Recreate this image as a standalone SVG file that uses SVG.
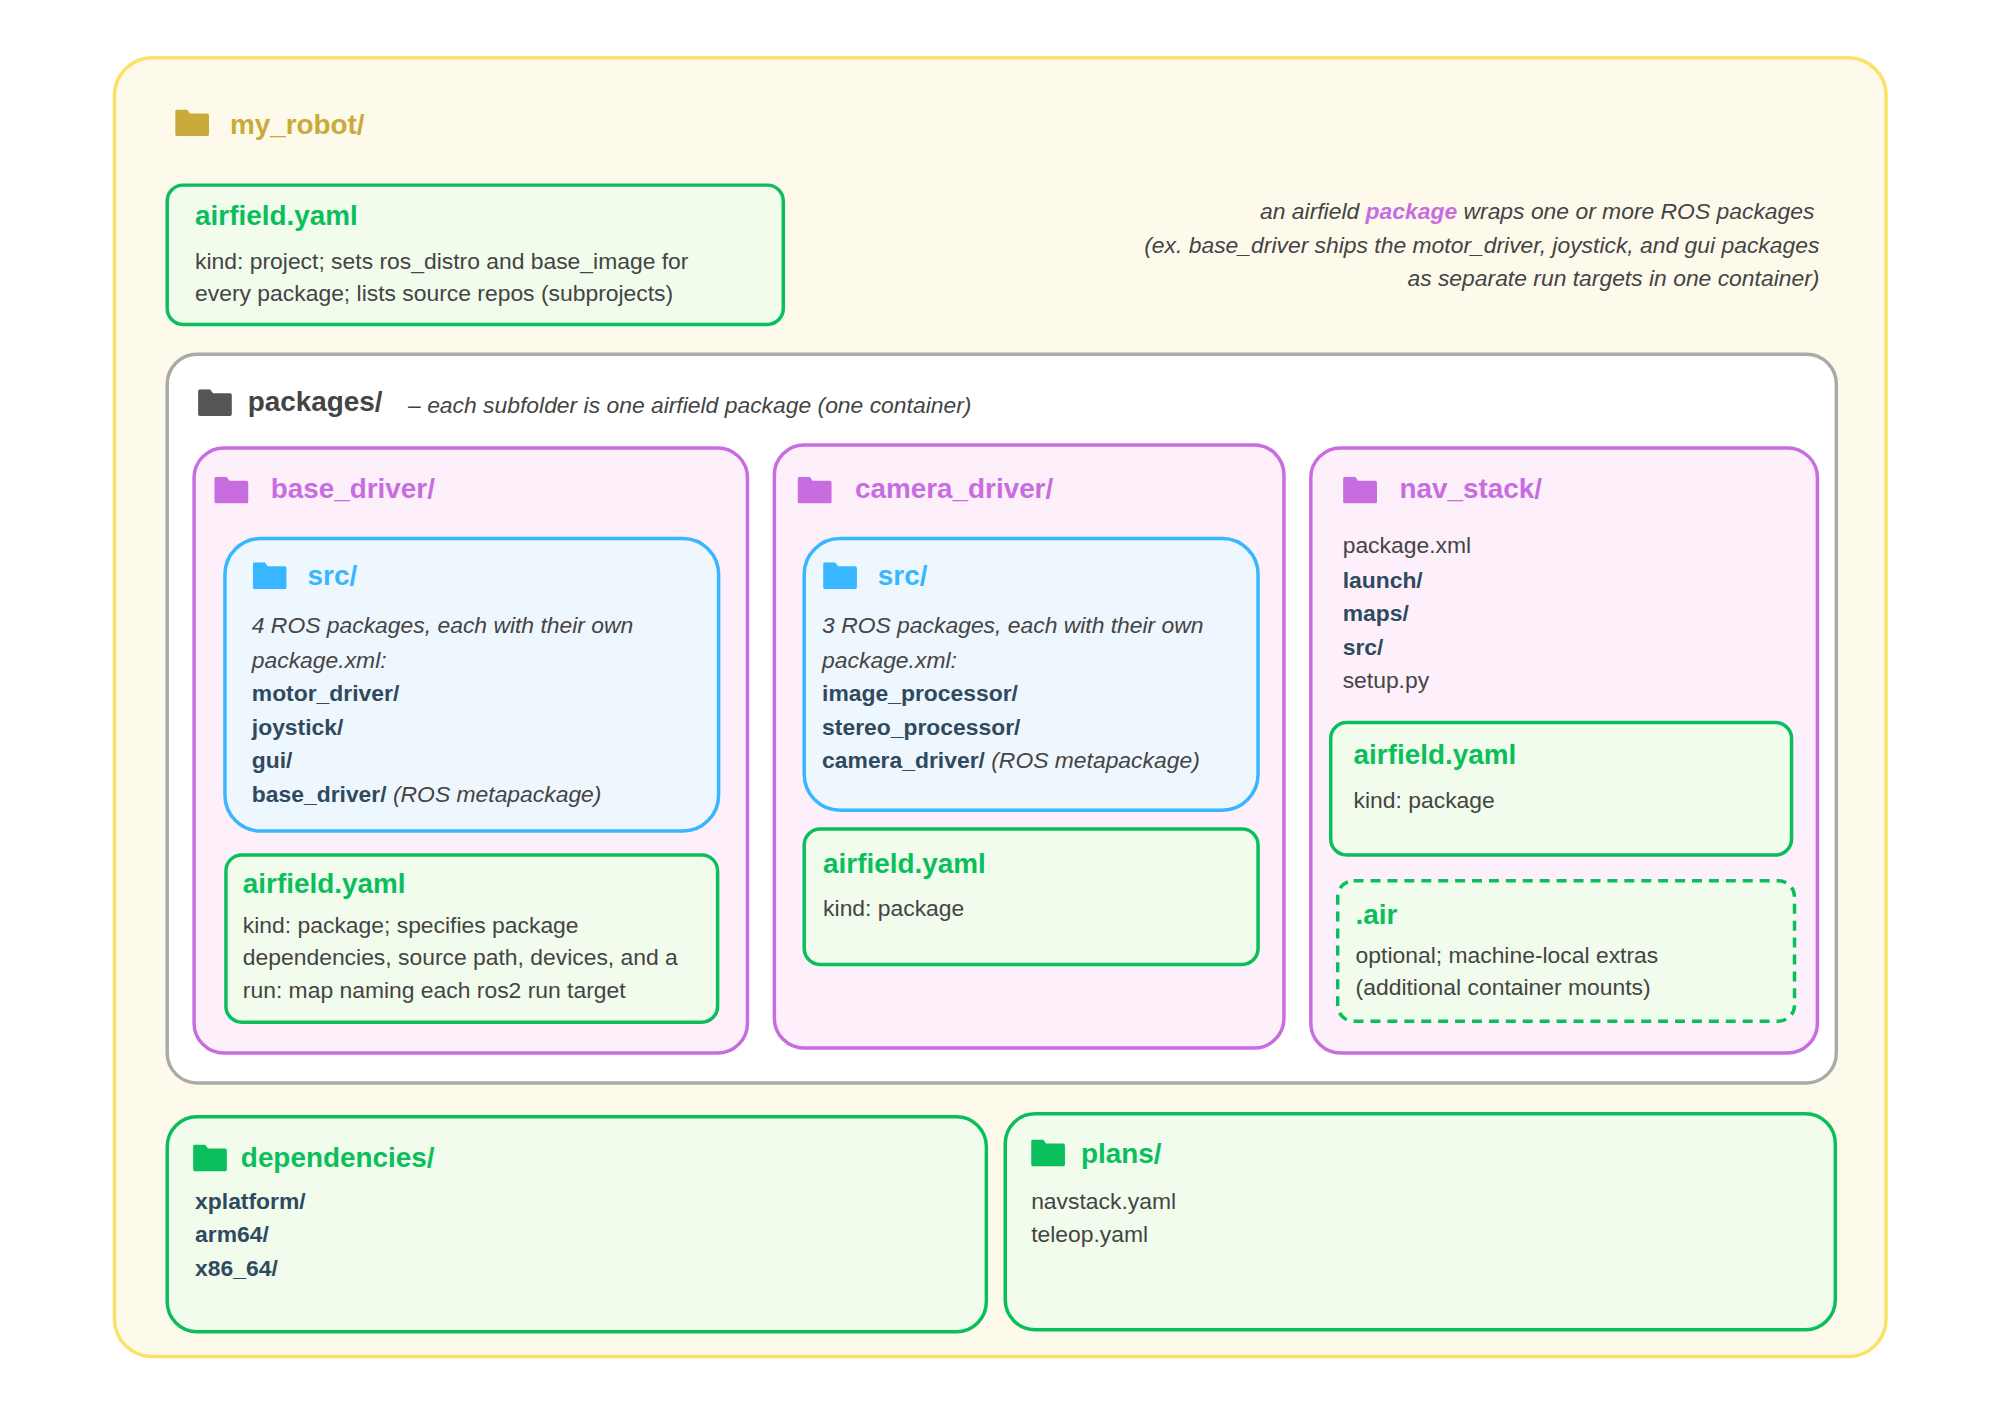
<svg xmlns="http://www.w3.org/2000/svg" width="2000" height="1414" viewBox="0 0 2000 1414">
<defs>
<style>
text{font-family:"Liberation Sans",Arial,sans-serif;}
.t{font-weight:bold;font-size:28px;}
.b{font-size:23px;fill:#444;}
.i{font-size:23px;fill:#444;font-style:italic;}
.k{font-size:23px;fill:#2f4a5e;font-weight:bold;}
.g{fill:#f1fcec;stroke:#0abf5b;stroke-width:3.5;}
.p{fill:#fdf0fb;stroke:#c86de0;stroke-width:3.5;}
.s{fill:#eef6fe;stroke:#38b6ff;stroke-width:3.5;}
</style>
<symbol id="fold" viewBox="0 0 34 27"><path d="M2 0H12L15 4H32Q34 4 34 6V25Q34 27 32 27H2Q0 27 0 25V2Q0 0 2 0Z"/></symbol>
</defs>
<rect width="2000" height="1414" fill="#fff"/>
<g transform="scale(0.9953)">
<g id="my_robot">
<rect x="115" y="58" width="1780" height="1305" rx="38" fill="#fdfaec" stroke="#fde066" stroke-width="3.5"/>
<use href="#fold" x="176" y="110" width="34" height="27" fill="#c9aa3a"/>
<text x="231" y="135" class="t" fill="#c9aa3a" font-size="33">my_robot/</text>
</g>
<g id="root_yaml">
<rect x="168" y="186" width="619" height="140" rx="16" class="g"/>
<text x="196" y="226" class="t" fill="#0abf5b">airfield.yaml</text>
<text x="196" y="270" class="b">kind: project; sets ros_distro and base_image for</text>
<text x="196" y="302" class="b">every package; lists source repos (subprojects)</text>
</g>
<g id="note">
<text x="1823" y="220" class="i" text-anchor="end">an airfield <tspan fill="#c86de0" font-weight="bold">package</tspan> wraps one or more ROS packages</text>
<text x="1828" y="254" class="i" text-anchor="end">(ex. base_driver ships the motor_driver, joystick, and gui packages</text>
<text x="1828" y="287" class="i" text-anchor="end">as separate run targets in one container)</text>
</g>
<g id="packages">
<rect x="168" y="356" width="1677" height="732" rx="30" fill="#fff" stroke="#aaa" stroke-width="3.5"/>
<use href="#fold" x="199" y="391" width="34" height="27" fill="#555"/>
<text x="249" y="413" class="t" fill="#444">packages/</text>
<text x="410" y="415" class="i">– each subfolder is one airfield package (one container)</text>
</g>
<g id="base_driver">
<rect x="195" y="450" width="556" height="608" rx="30" class="p"/>
<use href="#fold" x="215" y="479" width="35" height="27" fill="#c86de0"/>
<text x="272" y="500" class="t" fill="#c86de0">base_driver/</text>
<rect x="226" y="541" width="496" height="294" rx="36" class="s"/>
<use href="#fold" x="254" y="565" width="34" height="27" fill="#38b6ff"/>
<text x="309" y="588" class="t" fill="#38b6ff">src/</text>
<text x="253" y="636" class="i">4 ROS packages, each with their own</text>
<text x="253" y="671" class="i">package.xml:</text>
<text x="253" y="704" class="k">motor_driver/</text>
<text x="253" y="738" class="k">joystick/</text>
<text x="253" y="772" class="k">gui/</text>
<text x="253" y="806" class="k">base_driver/ <tspan class="i" font-weight="normal" fill="#444">(ROS metapackage)</tspan></text>
<rect x="227" y="859" width="494" height="168" rx="16" class="g"/>
<text x="244" y="897" class="t" fill="#0abf5b">airfield.yaml</text>
<text x="244" y="937" class="b">kind: package; specifies package</text>
<text x="244" y="970" class="b">dependencies, source path, devices, and a</text>
<text x="244" y="1003" class="b">run: map naming each ros2 run target</text>
</g>
<g id="camera_driver">
<rect x="778" y="447" width="512" height="606" rx="30" class="p"/>
<use href="#fold" x="801" y="479" width="35" height="27" fill="#c86de0"/>
<text x="859" y="500" class="t" fill="#c86de0">camera_driver/</text>
<rect x="808" y="541" width="456" height="273" rx="36" class="s"/>
<use href="#fold" x="827" y="565" width="34" height="27" fill="#38b6ff"/>
<text x="882" y="588" class="t" fill="#38b6ff">src/</text>
<text x="826" y="636" class="i">3 ROS packages, each with their own</text>
<text x="826" y="671" class="i">package.xml:</text>
<text x="826" y="704" class="k">image_processor/</text>
<text x="826" y="738" class="k">stereo_processor/</text>
<text x="826" y="772" class="k">camera_driver/ <tspan class="i" font-weight="normal" fill="#444">(ROS metapackage)</tspan></text>
<rect x="808" y="833" width="456" height="136" rx="16" class="g"/>
<text x="827" y="877" class="t" fill="#0abf5b">airfield.yaml</text>
<text x="827" y="920" class="b">kind: package</text>
</g>
<g id="nav_stack">
<rect x="1317" y="450" width="509" height="608" rx="30" class="p"/>
<use href="#fold" x="1349" y="479" width="35" height="27" fill="#c86de0"/>
<text x="1406" y="500" class="t" fill="#c86de0">nav_stack/</text>
<text x="1349" y="556" class="b">package.xml</text>
<text x="1349" y="591" class="k">launch/</text>
<text x="1349" y="624" class="k">maps/</text>
<text x="1349" y="658" class="k">src/</text>
<text x="1349" y="691" class="b">setup.py</text>
<rect x="1337" y="726" width="463" height="133" rx="16" class="g"/>
<text x="1360" y="768" class="t" fill="#0abf5b">airfield.yaml</text>
<text x="1360" y="812" class="b">kind: package</text>
<rect x="1344" y="885" width="459" height="141" rx="16" class="g" stroke-dasharray="10 7"/>
<text x="1362" y="928" class="t" fill="#0abf5b">.air</text>
<text x="1362" y="968" class="b">optional; machine-local extras</text>
<text x="1362" y="1000" class="b">(additional container mounts)</text>
</g>
<g id="dependencies">
<rect x="168" y="1122" width="823" height="216" rx="30" class="g"/>
<use href="#fold" x="194" y="1150" width="34" height="27" fill="#0abf5b"/>
<text x="242" y="1173" class="t" fill="#0abf5b">dependencies/</text>
<text x="196" y="1215" class="k">xplatform/</text>
<text x="196" y="1248" class="k">arm64/</text>
<text x="196" y="1282" class="k">x86_64/</text>
</g>
<g id="plans">
<rect x="1010" y="1119" width="834" height="217" rx="30" class="g"/>
<use href="#fold" x="1036" y="1145" width="34" height="27" fill="#0abf5b"/>
<text x="1086" y="1168" class="t" fill="#0abf5b">plans/</text>
<text x="1036" y="1215" class="b">navstack.yaml</text>
<text x="1036" y="1248" class="b">teleop.yaml</text>
</g>
<g id="connectors"></g>
</g>
</svg>
